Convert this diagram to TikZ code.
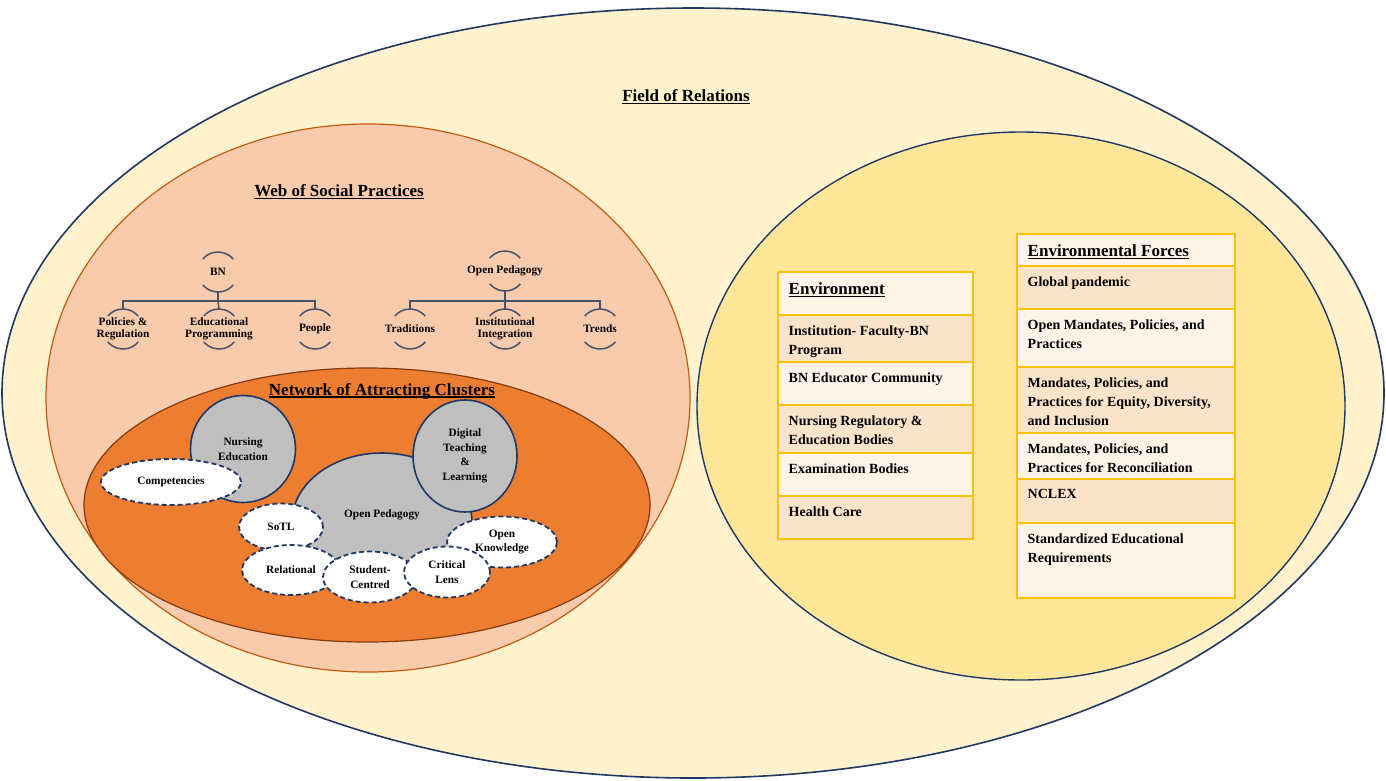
\documentclass[tikz,border=0pt]{standalone}
\usepackage{fontspec}
\setmainfont{Liberation Serif}
\usetikzlibrary{shapes.geometric}

\definecolor{navy}{HTML}{1F3864}
\definecolor{slate}{HTML}{44546A}
\definecolor{cream}{HTML}{FFF2CC}
\definecolor{peach}{HTML}{F8CBAD}
\definecolor{peachline}{HTML}{C55A11}
\definecolor{orangefill}{HTML}{ED7D31}
\definecolor{orangeline}{HTML}{843C0C}
\definecolor{sun}{HTML}{FFE699}
\definecolor{cellA}{HTML}{FEF4E8}
\definecolor{cellB}{HTML}{FCE4CB}
\definecolor{gold}{HTML}{FFC000}
\definecolor{clgray}{HTML}{BFBFBF}

% heading with a heavier underline
\newcommand{\hdr}[1]{\setbox0\hbox{#1}\rlap{\rule[-2.6pt]{\wd0}{1.3pt}}\box0}

% one table row: x1, x2, top, bottom, fill, node name, text
\newcommand{\tcell}[7]{%
  \draw[gold, line width=1.3pt, fill=#5] (#1,-#3) rectangle (#2,-#4);
  \node[celltext] (#6) at (#1+10.5,-#3-10.5) {#7};}

\begin{document}
\begin{tikzpicture}[x=1pt,y=1pt,
  title/.style={font=\bfseries\fontsize{17}{20}\selectfont},
  hubtext/.style={font=\bfseries\fontsize{11.3}{12.5}\selectfont, align=center, inner sep=0pt},
  hub/.style={circle, minimum size=40pt, inner sep=0pt, outer sep=0pt},
  tree/.style={slate, line width=1.5pt},
  cltext/.style={font=\bfseries\fontsize{11.3}{14.5}\selectfont, align=center, inner sep=0pt},
  blob/.style={ellipse, draw=navy, line width=1.6pt, fill=clgray, inner sep=0pt, cltext},
  bubble/.style={ellipse, draw=navy, line width=1.8pt, dash pattern=on 5pt off 3pt, fill=white, inner sep=0pt, cltext},
  celltext/.style={anchor=north west, inner sep=0pt, align=left, font=\bfseries\fontsize{14}{19}\selectfont},
]
\useasboundingbox (0,0) rectangle (1386,-780);
\fill[white] (0,0) rectangle (1386,-780);

% nested fields
\draw[navy, line width=1.6pt, fill=cream] (693,-393) ellipse (691 and 385);
\draw[peachline, line width=1.2pt, fill=peach] (368,-398) ellipse (322 and 274);
\draw[orangeline, line width=1.2pt, fill=orangefill] (367,-505) ellipse (283 and 137);
\draw[navy, line width=1.4pt, fill=sun] (1021,-406) ellipse (324 and 274);

% headings
\node[title] (tfield) at (686,-97) {\hdr{Field of Relations}};
\node[title] (tweb) at (339,-192) {\hdr{Web of Social Practices}};
\node[title] (tnet) at (382,-391) {\hdr{Network of Attracting Clusters}};

% BN tree
\node[hub, label={[hubtext]center:BN}] (bn) at (218,-272) {};
\node[hub, label={[hubtext]center:Policies \&\\Regulation}] (pol) at (123,-329) {};
\node[hub, label={[hubtext]center:Educational\\Programming}] (edu) at (219,-329) {};
\node[hub, label={[hubtext]center:People}] (ppl) at (315,-329) {};
% Open Pedagogy tree
\node[hub, label={[hubtext]center:Open Pedagogy}] (opr) at (505,-271) {};
\node[hub, label={[hubtext]center:Traditions}] (tra) at (410,-329) {};
\node[hub, label={[hubtext]center:Institutional\\Integration}] (ins) at (505,-329) {};
\node[hub, label={[hubtext]center:Trends}] (tre) at (600,-329) {};

\foreach \n in {bn,pol,edu,ppl,opr,tra,ins,tre}{
  \draw[tree] (\n.40) arc (40:140:20);
  \draw[tree] (\n.220) arc (220:320:20);
}
\coordinate (bnj) at ([yshift=-9]bn.south);
\draw[tree] (bn.south) -- (bnj);
\draw[tree] (pol.north) |- (bnj) -| (ppl.north);
\draw[tree] (bnj) -- (edu.north);
\coordinate (opj) at ([yshift=-10]opr.south);
\draw[tree] (opr.south) -- (opj);
\draw[tree] (tra.north) |- (opj) -| (tre.north);
\draw[tree] (opj) -- (ins.north);

% attracting clusters
\node[blob, minimum width=180pt, minimum height=138pt] (opc) at (382,-522) {};
\node[cltext] (opct) at (382,-515) {Open Pedagogy};
\node[blob, minimum width=104pt, minimum height=112pt] (dtl) at (465,-456) {Digital\\Teaching\\\&\\Learning};
\node[blob, minimum width=105pt, minimum height=107pt] (nur) at (243,-449) {Nursing\\Education};
\node[bubble, minimum width=140pt, minimum height=46pt] (comp) at (171,-482) {Competencies};
\node[bubble, minimum width=84pt, minimum height=47pt] (sotl) at (281,-527) {SoTL};
\node[bubble, minimum width=98pt, minimum height=50pt] (rel) at (291,-570) {Relational};
\node[bubble, minimum width=94pt, minimum height=51pt] (stc) at (370,-577) {Student-\\Centred};
\node[bubble, minimum width=110pt, minimum height=51pt] (opk) at (502,-542) {Open\\Knowledge};
\node[bubble, minimum width=86pt, minimum height=51pt] (crl) at (447,-572) {Critical\\Lens};

% Environment table
\tcell{778}{973}{272}{315}{cellA}{env0}{\fontsize{17}{19}\selectfont\hdr{Environment}}
\tcell{778}{973}{315}{362}{cellB}{env1}{Institution- Faculty-BN\\Program}
\tcell{778}{973}{362}{405}{cellA}{env2}{BN Educator Community}
\tcell{778}{973}{405}{453}{cellB}{env3}{Nursing Regulatory \&\\Education Bodies}
\tcell{778}{973}{453}{496}{cellA}{env4}{Examination Bodies}
\tcell{778}{973}{496}{539}{cellB}{env5}{Health Care}
\draw[gold, line width=1.8pt] (778,-272) rectangle (973,-539);

% Environmental Forces table
\tcell{1017}{1235}{234}{266}{cellA}{frc0}{\fontsize{17}{19}\selectfont\hdr{Environmental Forces}}
\tcell{1017}{1235}{266}{309}{cellB}{frc1}{Global pandemic}
\tcell{1017}{1235}{309}{367}{cellA}{frc2}{Open Mandates, Policies, and\\Practices}
\tcell{1017}{1235}{367}{433}{cellB}{frc3}{Mandates, Policies, and\\Practices for Equity, Diversity,\\and Inclusion}
\tcell{1017}{1235}{433}{479}{cellA}{frc4}{Mandates, Policies, and\\Practices for Reconciliation}
\tcell{1017}{1235}{479}{523}{cellB}{frc5}{NCLEX}
\tcell{1017}{1235}{523}{598}{cellA}{frc6}{Standardized Educational\\Requirements}
\draw[gold, line width=1.8pt] (1017,-234) rectangle (1235,-598);
\end{tikzpicture}
\end{document}
